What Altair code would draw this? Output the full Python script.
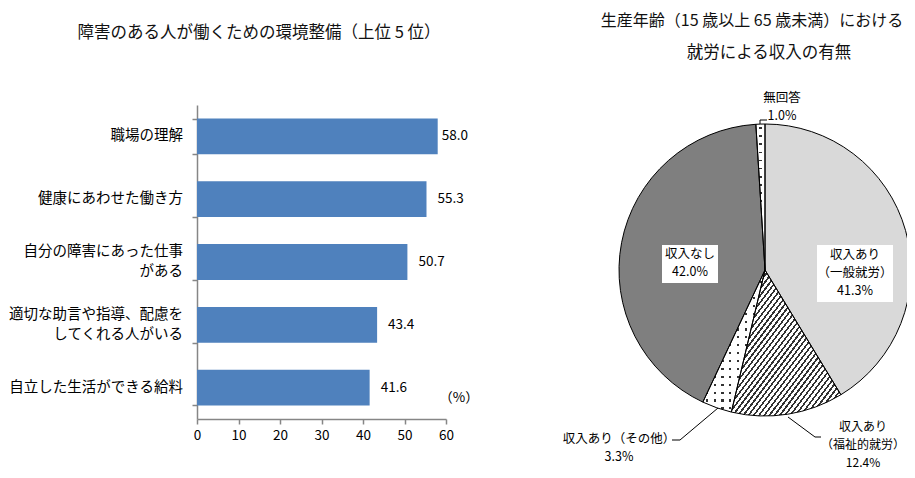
import altair as alt
import pandas as pd

# ---------------- data ----------------
bar_items = ["職場の理解", "健康にあわせた働き方", "自分の障害にあった仕事\nがある",
             "適切な助言や指導、配慮を\nしてくれる人がいる", "自立した生活ができる給料"]
bar_values = [58.0, 55.3, 50.7, 43.4, 41.6]
bar_ticks = [0, 10, 20, 30, 40, 50, 60]
bar_title = "障害のある人が働くための環境整備（上位 5 位）"
bar_unit = "（%）"

pie_keys = ["一般就労", "福祉的就労", "その他", "収入なし", "無回答"]
pie_names = ["収入あり\n（一般就労）", "収入あり\n（福祉的就労）", "収入あり（その他）", "収入なし", "無回答"]
pie_values = [41.3, 12.4, 3.3, 42.0, 1.0]
pie_title_1 = "生産年齢（15 歳以上 65 歳未満）における"
pie_title_2 = "就労による収入の有無"

FONT = "Noto Sans CJK JP"
AXIS_GRAY = "#868686"


def stripes(n, frac, on, off, x1, y1, x2, y2, phase=0.0):
    stops = [{"offset": 0, "color": off}]
    for i in range(n):
        a = (i + phase) / n
        b = (i + phase + frac) / n
        stops += [{"offset": a, "color": off}, {"offset": a, "color": on},
                  {"offset": b, "color": on}, {"offset": b, "color": off}]
    stops.append({"offset": 1, "color": off})
    return {"gradient": "linear", "x1": x1, "y1": y1, "x2": x2, "y2": y2, "stops": stops}


def one_row():
    return alt.Chart(alt.Data(values=[{}]))


# ---------------- left: bar chart ----------------
bar_df = pd.DataFrame({"item": bar_items, "value": bar_values})
base1 = alt.Chart(bar_df)

y_enc = alt.Y("item:N", sort=bar_items, title=None,
              scale=alt.Scale(paddingInner=0.43, paddingOuter=0.215),
              axis=alt.Axis(labels=False, tickSize=5, tickBand="extent",
                            domainColor=AXIS_GRAY, domainWidth=1.5,
                            tickColor=AXIS_GRAY, tickWidth=1.5))
x_enc = alt.X("value:Q", title=None, scale=alt.Scale(domain=[0, 60], nice=False),
              axis=alt.Axis(values=bar_ticks, format="d", grid=False, labelFlush=False,
                            labelFont=FONT, labelFontSize=13.5, labelColor="#000",
                            labelPadding=4, tickSize=5,
                            domainColor=AXIS_GRAY, domainWidth=1.5,
                            tickColor=AXIS_GRAY, tickWidth=1.5))

bars = base1.mark_bar(color="#4f81bd").encode(x=x_enc, y=y_enc)

one_line = "indexof(datum.item, '\\n') < 0"
two_line = "indexof(datum.item, '\\n') >= 0"
cat_lab_1 = base1.transform_filter(one_line).mark_text(
    align="right", baseline="middle", fontSize=14.5, color="#000", font=FONT,
    lineBreak="\n", lineHeight=20
).encode(x=alt.value(-14), y=y_enc, text="item:N")
cat_lab_2 = base1.transform_filter(two_line).mark_text(
    align="right", baseline="middle", dy=-10, fontSize=14.5, color="#000", font=FONT,
    lineBreak="\n", lineHeight=20
).encode(x=alt.value(-14), y=y_enc, text="item:N")

val_first = base1.transform_filter(alt.datum.item == bar_items[0]).mark_text(
    align="left", baseline="middle", dx=4, fontSize=13.5, color="#000", font=FONT
).encode(x=x_enc, y=y_enc, text=alt.Text("value:Q", format=".1f"))
val_rest = base1.transform_filter(alt.datum.item != bar_items[0]).mark_text(
    align="left", baseline="middle", dx=11, fontSize=13.5, color="#000", font=FONT
).encode(x=x_enc, y=y_enc, text=alt.Text("value:Q", format=".1f"))

unit_txt = alt.Chart(alt.Data(values=[{"t": bar_unit}])).mark_text(
    fontSize=13.5, color="#000", font=FONT, baseline="middle"
).encode(x=alt.value(262), y=alt.value(293), text="t:N")
title1 = alt.Chart(alt.Data(values=[{"t": bar_title}])).mark_text(
    fontSize=16.5, color="#111", font=FONT, baseline="middle"
).encode(x=alt.value(62), y=alt.value(-72), text="t:N")

panel1 = alt.layer(bars, cat_lab_1, cat_lab_2, val_first, val_rest, unit_txt, title1).properties(
    width=249, height=314)

# ---------------- right: pie chart ----------------
CX, CY, R = 285, 165, 146
pie_df = pd.DataFrame({"key": pie_keys, "name": pie_names, "value": pie_values,
                       "order": list(range(len(pie_keys)))})
base2 = alt.Chart(pie_df).transform_window(
    cum="sum(value)", sort=[alt.SortField("order")], frame=[None, 0]
).transform_calculate(
    start="datum.cum - datum.value",
    label="datum.name + '\\n' + format(datum.value, '.1f') + '%'"
)
th = alt.Theta("start:Q", scale=alt.Scale(domain=[0, 100]))
th2 = alt.Theta2("cum:Q")
pos = dict(theta=th, theta2=th2, x=alt.value(CX), y=alt.value(CY))

arc_fill = base2.mark_arc(radius=R).encode(
    color=alt.Color("key:N", legend=None,
                    scale=alt.Scale(domain=pie_keys,
                                    range=["#d9d9d9", "#ffffff", "#333333", "#7f7f7f", "#333333"])),
    **pos)

CLEAR = "rgba(255,255,255,0)"
hatch = base2.transform_filter(alt.datum.key == pie_keys[1]).mark_arc(
    radius=R, fill=stripes(42, 0.4, "#333333", "#ffffff", 0, 0, 1, 1)).encode(**pos)
other_rows = base2.transform_filter(alt.datum.key == pie_keys[2]).mark_arc(
    radius=R, fill=stripes(18, 0.27, CLEAR, "#ffffff", 0, 0, 0, 1, 0.4)).encode(**pos)
other_cols = base2.transform_filter(alt.datum.key == pie_keys[2]).mark_arc(
    radius=R, fill=stripes(8, 0.27, CLEAR, "#ffffff", 0, 0, 1, 0, 0.4)).encode(**pos)
na_rows = base2.transform_filter(alt.datum.key == pie_keys[4]).mark_arc(
    radius=R, fill=stripes(18, 0.2, CLEAR, "#ffffff", 0, 0, 0, 1, 0.4)).encode(**pos)
na_cols = base2.transform_filter(alt.datum.key == pie_keys[4]).mark_arc(
    radius=R, fill=stripes(1, 0.3, CLEAR, "#ffffff", 0, 0, 1, 0, 0.4)).encode(**pos)
outline = base2.mark_arc(radius=R, fillOpacity=0, stroke="#000", strokeWidth=1).encode(**pos)

box_none = one_row().mark_rect(color="#ffffff").encode(
    x=alt.value(182), x2=alt.value(238), y=alt.value(140), y2=alt.value(178))
box_gen = one_row().mark_rect(color="#ffffff").encode(
    x=alt.value(337), x2=alt.value(413), y=alt.value(140), y2=alt.value(197))


def pie_label(key, x, y, lh=18, size=12.5):
    # y is the centre of the first line
    return base2.transform_filter(alt.datum.key == key).mark_text(
        fontSize=size, color="#000", font=FONT, baseline="middle", align="center",
        lineBreak="\n", lineHeight=lh
    ).encode(x=alt.value(x), y=alt.value(y), text="label:N")


lab_gen = pie_label(pie_keys[0], 375, 150)
lab_wel = pie_label(pie_keys[1], 383, 322, 18, 12)
lab_oth = pie_label(pie_keys[2], 139, 334, 18)
lab_non = pie_label(pie_keys[3], 210, 149)
lab_na = pie_label(pie_keys[4], 302, -7)


def seg(x1, y1, x2, y2):
    return one_row().mark_rule(color="#000", strokeWidth=1).encode(
        x=alt.value(x1), y=alt.value(y1), x2=alt.value(x2), y2=alt.value(y2))


leaders = [
    seg(280, 19, 280, 15), seg(280, 15, 287, 15),
    seg(238, 303, 200, 335), seg(200, 335, 192, 335),
    seg(308, 312, 335, 332), seg(335, 332, 341, 332),
]

t2a = alt.Chart(alt.Data(values=[{"t": pie_title_1}])).mark_text(
    fontSize=16, color="#111", font=FONT, baseline="middle"
).encode(x=alt.value(272), y=alt.value(-84), text="t:N")
t2b = alt.Chart(alt.Data(values=[{"t": pie_title_2}])).mark_text(
    fontSize=16.5, color="#111", font=FONT, baseline="middle"
).encode(x=alt.value(289), y=alt.value(-52), text="t:N")

panel2 = alt.layer(
    arc_fill, hatch, other_rows, other_cols, na_rows, na_cols, outline,
    box_none, box_gen, lab_gen, lab_wel, lab_oth, lab_non, lab_na,
    *leaders, t2a, t2b
).properties(width=427, height=355)

chart = alt.hconcat(panel1, panel2, spacing=34, bounds="flush").properties(
    autosize=alt.AutoSizeParams(type="none"),
    padding={"left": 189, "top": 97, "right": 710, "bottom": 365},
).configure(font=FONT, view=alt.ViewConfig(strokeWidth=0))

chart.save("out.html", embed_options={"renderer": "svg", "actions": False})
